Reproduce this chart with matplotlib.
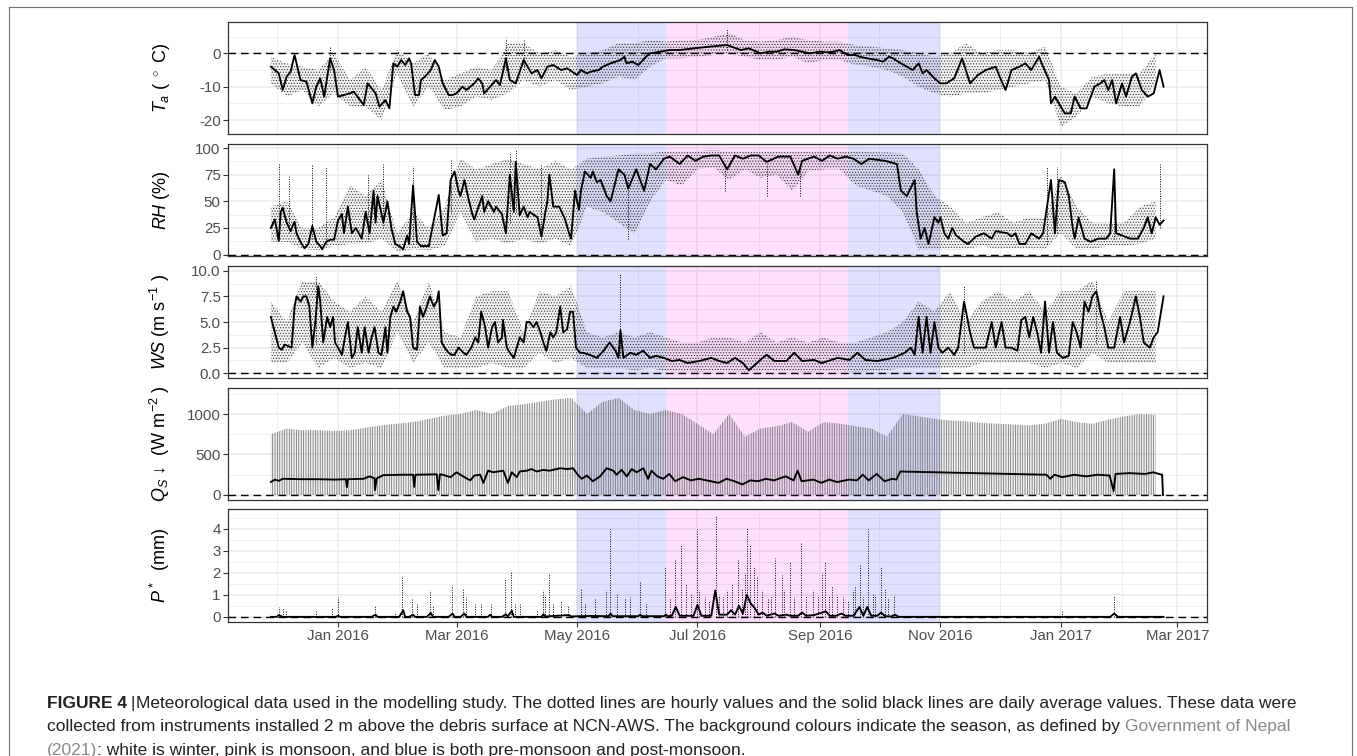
import numpy as np
import matplotlib
matplotlib.use("Agg")
import matplotlib.pyplot as plt
import matplotlib.dates as mdates
from matplotlib.lines import Line2D

plt.rcParams['font.family'] = ['Liberation Sans', 'DejaVu Sans']
plt.rcParams['mathtext.fontset'] = 'custom'
plt.rcParams['mathtext.rm'] = 'Liberation Sans'
plt.rcParams['mathtext.it'] = 'Liberation Sans:italic'
plt.rcParams['mathtext.bf'] = 'Liberation Sans:bold'
plt.rcParams['hatch.linewidth'] = 0.5

# ---- data (days counted from 2016-01-01) ----

# daily means: [day, value]
ta_daily = np.array([
    [-34, -4], [-30, -6], [-28, -11], [-26, -7], [-24, -5.5], [-22, -0.5], [-19, -8], [-16, -8.5],
    [-13, -15], [-11, -10], [-9, -7.5], [-7, -13], [-4, -1.5], [-2, -5], [0, -13], [6, -12],
    [8, -11.5], [13, -15.5], [15, -9], [19, -12], [21, -16], [24, -14], [26, -16.5], [28, -3],
    [30, -4], [32, -2], [34, -3.5], [36, -1.5], [37, -3], [39, -12.5], [41, -12.5], [42, -8],
    [44, -7], [47, -5], [49, -2], [51, -4], [53, -9], [56, -12.5], [58, -12.5], [60, -12],
    [63, -10], [65, -11], [69, -9], [71, -7.5], [73, -9], [74, -12], [77, -10], [80, -8],
    [82, -9.5], [85, -1.5], [87, -8], [90, -9], [94, -2], [96, -4], [98, -6], [101, -5],
    [103, -7.5], [106, -4], [109, -3.5], [113, -5], [116, -4.5], [121, -6.5], [123, -5], [126, -6],
    [128, -5.5], [132, -5], [134, -4], [138, -3], [143, -2], [145, -1], [146, -3], [149, -2.5],
    [152, -3.5], [156, -1], [158, 0], [163, 0.5], [168, 1], [173, 1], [180, 1.5], [188, 2],
    [197, 2.5], [204, 1], [208, 1.5], [214, 0], [218, 0.5], [222, 0.5], [226, 1.2], [231, 1],
    [235, 0.5], [239, 0], [244, 0.5], [248, 0.3], [251, 0.5], [254, 1], [258, -0.5], [262, -0.5],
    [264, -1], [268, -1.5], [273, -2], [276, -2.5], [279, -1], [281, -1.5], [285, -3], [288, -4],
    [291, -5], [294, -3], [296, -6], [298, -5], [302, -7.5], [305, -9], [308, -9], [312, -7.5],
    [316, -1.5], [320, -9], [324, -6.5], [328, -5], [333, -4], [335, -7], [338, -11], [341, -5],
    [345, -4], [348, -3], [351, -5], [355, -1], [357, -4], [360, -8], [361, -15], [363, -13],
    [368, -18], [371, -18], [373, -13], [376, -16.5], [379, -16.5], [383, -10], [386, -9], [388, -8],
    [390, -11], [392, -8], [394, -15], [397, -9], [399, -13], [402, -7], [404, -6], [407, -11],
    [410, -13], [413, -12], [416, -5], [418, -10],
])

rh_daily = np.array([
    [-34, 25], [-32, 33], [-30, 13], [-29, 40], [-28, 44], [-26, 30], [-24, 22], [-23, 27],
    [-22, 31], [-21, 20], [-19, 12], [-17, 6], [-15, 10], [-13, 27], [-11, 12], [-9, 8],
    [-8, 5], [-6, 12], [-4, 14], [-2, 14], [0, 32], [2, 38], [3, 20], [5, 45], [7, 20],
    [9, 25], [12, 15], [14, 40], [16, 20], [18, 60], [19, 30], [20, 55], [23, 30], [25, 50],
    [27, 25], [29, 10], [31, 8], [33, 5], [35, 18], [36, 10], [38, 65], [40, 12], [42, 8],
    [46, 8], [47, 18], [51, 56], [53, 18], [55, 20], [57, 70], [59, 78], [61, 60], [62, 55],
    [64, 70], [66, 53], [68, 38], [69, 33], [73, 55], [74, 40], [76, 50], [79, 40], [80, 45],
    [83, 38], [85, 20], [87, 75], [89, 40], [90, 87], [92, 37], [94, 45], [96, 35], [97, 40],
    [101, 35], [103, 17], [105, 40], [106, 50], [107, 75], [109, 45], [112, 45], [115, 33],
    [117, 20], [118, 15], [120, 60], [122, 42], [123, 60], [125, 78], [128, 72], [129, 78],
    [131, 68], [133, 70], [136, 55], [138, 50], [142, 80], [145, 75], [147, 62], [151, 80],
    [155, 60], [158, 85], [161, 80], [165, 90], [168, 92], [173, 85], [177, 93], [181, 88],
    [185, 92], [189, 93], [193, 93], [197, 80], [201, 93], [205, 90], [209, 93], [213, 93],
    [217, 87], [223, 92], [229, 92], [233, 75], [235, 88], [241, 92], [245, 88], [249, 93],
    [253, 90], [257, 92], [261, 90], [265, 85], [269, 90], [277, 88], [283, 85], [285, 60],
    [288, 55], [292, 70], [293, 40], [295, 15], [297, 25], [299, 10], [302, 35], [304, 30],
    [305, 35], [307, 20], [309, 15], [311, 25], [313, 18], [317, 12], [319, 10], [323, 17],
    [327, 20], [331, 15], [333, 22], [339, 20], [341, 17], [343, 20], [345, 10], [348, 10],
    [351, 20], [355, 15], [357, 20], [361, 70], [363, 20], [365, 70], [368, 68], [370, 55],
    [372, 25], [373, 15], [375, 35], [378, 15], [381, 12], [385, 15], [389, 15], [391, 20],
    [393, 80], [394, 20], [397, 18], [401, 15], [405, 15], [408, 25], [410, 35], [412, 20],
    [414, 35], [416, 28], [418, 32],
])

ws_daily = np.array([
    [-34, 5.5], [-32, 4], [-30, 2.5], [-28.5, 2.3], [-27, 2.8], [-23.5, 2.5], [-22, 6.5], [-21, 7.5],
    [-19, 7], [-17.5, 7.5], [-16, 7.5], [-14.5, 6.5], [-13, 2.5], [-11.5, 5], [-10, 8.5], [-9, 7],
    [-7.5, 3], [-5.5, 5.5], [-4, 4.5], [-2.5, 5.5], [-1.5, 3], [0, 2.5], [2, 1.8], [3.5, 3.5],
    [5, 5], [7, 1.5], [8.5, 2], [10, 4.5], [12, 2], [13.5, 4.5], [15.5, 2], [17, 3.5],
    [18.5, 4.5], [20.5, 2], [22, 1.8], [24, 4.5], [25, 2], [26.5, 5.5], [28, 6.5], [29.5, 6],
    [31.5, 7], [33, 8], [35, 6], [36.5, 5.5], [38, 2.5], [40, 2.3], [41.5, 6.5], [43, 5.5],
    [45, 6.5], [46.5, 7.5], [48.5, 6.5], [50, 7], [51, 8], [52.5, 3], [54, 2.5], [56, 2],
    [57.5, 1.8], [59, 1.8], [61, 2.5], [63.5, 2], [65, 1.8], [67.5, 2.5], [69.5, 3.5], [71, 3],
    [72.5, 6], [74.5, 4.5], [76, 2.5], [78, 4.5], [79.5, 5], [81, 3], [83, 3.5], [83.5, 5.2],
    [85.5, 2.5], [87, 2], [89, 1.5], [90.5, 2.5], [92, 3.5], [94, 3], [95.5, 5], [97, 5],
    [99, 4.5], [100.5, 5], [102.5, 4], [104, 3], [105.5, 2.2], [107.5, 4], [109, 3.5], [110.5, 4],
    [112.5, 6.5], [114, 4], [116, 4.3], [117.5, 6], [119, 6], [120.5, 2.5], [122.5, 2], [124, 2],
    [127.5, 1.8], [131, 1.5], [134.5, 2.2], [137.5, 3], [140.5, 2.2], [142, 1.5], [143, 4.2], [144.5, 1.5],
    [148, 2], [151, 1.8], [154.5, 2.2], [158, 1.5], [161, 1.7], [165, 1.5], [169, 1.2], [173, 1.3],
    [177, 1], [183, 1.2], [189, 1.5], [193, 1.2], [197, 1], [201, 1.5], [205, 1], [208, 0.3],
    [211, 0.8], [215, 1.5], [217, 1.8], [221, 1.2], [227, 1.2], [231, 2], [235, 1.2], [241, 1.3],
    [245, 1], [253, 1.5], [259, 1.3], [263, 2], [267, 1.3], [273, 1.2], [281, 1.5], [287, 2],
    [290, 2.5], [292, 1.8], [294, 5.5], [296, 2], [298, 5.5], [300, 2], [302, 5], [304, 2.5],
    [306, 2], [309, 2.5], [312, 1.8], [314, 2.5], [317, 7], [320, 4], [322, 2.5], [325, 2.5],
    [328, 2.5], [331, 5], [333, 2.5], [336, 5], [338, 2.5], [341, 2.5], [344, 2.2], [346, 5.2],
    [348, 5.5], [350, 3.5], [352, 5.5], [354, 4], [356, 2], [358, 7], [360, 2], [362, 5],
    [364, 2], [367, 1.5], [370, 1.7], [372, 5], [374, 4], [376, 2.5], [378, 7], [380, 6],
    [382, 7.5], [384, 8], [386, 6], [388, 4.5], [390, 2.5], [393, 2.5], [396, 5.5], [398, 3],
    [401, 5], [404, 7.5], [406, 5.5], [408, 3], [411, 2.5], [413, 3.5], [415, 4], [418, 7.5],
])

qs_daily = np.array([
    [-34, 160], [-32, 190], [-30, 175], [-28, 200], [-19, 195], [-11, 195], [-1, 190], [4, 195],
    [4.5, 95], [5, 195], [13, 200], [16, 230], [18.5, 205], [18.7, 60], [19.6, 205], [23, 245],
    [33, 250], [38, 250], [38.6, 100], [39.2, 250], [50, 255], [50.8, 60], [51.6, 255], [53, 250],
    [57, 220], [60, 280], [62, 250], [64, 220], [67, 180], [69, 240], [72, 250], [73.6, 150],
    [76, 300], [78.6, 280], [81, 290], [83.7, 300], [86, 150], [88, 280], [90.5, 220], [92, 290],
    [95.5, 300], [98, 320], [100.6, 290], [104, 310], [107, 300], [112.4, 330], [116, 320], [119, 330],
    [121.7, 240], [123.4, 200], [126, 240], [129, 170], [132.7, 230], [136, 330], [139.4, 300], [141, 250],
    [143.6, 310], [146.2, 230], [148.7, 320], [151.2, 280], [154.6, 330], [157, 200], [158.7, 300], [161.7, 230],
    [164.7, 200], [167.7, 260], [170.7, 170], [174.7, 220], [178.7, 180], [182.7, 200], [186.7, 180], [192.7, 150],
    [196.7, 200], [200.7, 170], [204.7, 130], [208.7, 180], [212.7, 170], [216.7, 200], [220.7, 180], [226.7, 230],
    [230.7, 180], [232.7, 300], [234.7, 170], [240.7, 190], [244.7, 150], [248.7, 190], [252.7, 160], [258.7, 190],
    [262.7, 180], [265.7, 250], [268.7, 180], [272.7, 260], [276.7, 170], [280.7, 200], [282.7, 190], [284.7, 290],
    [358.7, 250], [360.7, 200], [362.7, 250], [366.7, 220], [372.7, 250], [378.7, 230], [384.7, 250], [390.7, 240],
    [392.7, 50], [393.7, 260], [400.7, 270], [408.7, 260], [412.7, 280], [415.7, 260], [417.3, 250], [417.7, 0],
])

p_daily = np.array([
    [-34, 0], [-31, 0], [-30, 0.08], [-28, 0], [-1, 0], [0, 0.05], [1, 0], [17, 0], [19, 0.1], [20, 0],
    [31, 0], [33, 0.3], [34, 0], [36, 0], [38, 0.1], [39, 0], [45, 0], [47, 0.18], [48, 0], [56, 0],
    [58, 0.15], [59, 0], [62, 0], [64, 0.15], [65, 0], [76, 0], [77, 0.1], [78, 0], [83, 0], [85, 0.12],
    [86, 0.02], [88, 0.28], [89, 0], [103, 0], [104, 0.12], [105, 0.02], [117, 0.08], [118, 0.02],
    [128, 0.04], [137, 0.03], [138, 0.15], [139, 0.03], [152, 0.03], [153, 0.1], [154, 0.03], [165, 0.03],
    [166, 0.1], [167, 0.03], [169, 0.05], [171, 0.45], [173, 0.05], [180, 0.05], [182, 0.55], [184, 0.05],
    [189, 0.05], [191, 1.2], [193, 0.1], [197, 0.1], [199, 0.3], [201, 0.1], [203, 0.5], [205, 0.15],
    [207, 1.0], [209, 0.6], [211, 0.4], [213, 0.1], [215, 0.2], [217, 0.05], [221, 0.15], [223, 0.05],
    [227, 0.1], [229, 0.05], [233, 0.05], [235, 0.2], [237, 0.05], [241, 0.08], [247, 0.25], [249, 0.05],
    [252, 0.05], [255, 0.15], [257, 0.05], [261, 0.05], [264, 0.45], [266, 0.05], [268, 0.45], [270, 0.05],
    [273, 0.05], [275, 0.2], [277, 0.03], [280, 0.02], [282, 0.1], [284, 0], [391, 0], [393, 0.15],
    [395, 0], [418, 0],
])

# hourly extremes, sampled every 8 days from day -34
env_days = np.arange(-34, 415, 8)
ta_hi = [-1, -3, -4, -5, 0, -8, -4, -11, 1, -3, 0, -8, -6, -4, -5, 3, 3, 0, 1, -1, 0, 1, 3, 3, 4, 3.5, 4, 4,
         5, 6, 4, 3.5, 4, 5, 4, 3.5, 3.5, 2.5, 2, 1.5, 1, 0, -1, 0, 3, 0, 1, 1, 0, 2, -10, -12, -7, -6, -6, -6, 0]
ta_lo = [-9, -13, -11, -16, -12, -16, -16, -20, -6, -16, -10, -17, -16, -13, -14, -12, -8, -10, -8, -11, -10,
         -9, -7, -8, -4, -1.5, -1.5, -1, -0.5, 0, -1, -2, -2, -1, -3, -2, -2, -3.5, -4, -5, -7, -10, -12, -13,
         -12, -12, -11, -10, -9, -8, -22, -19, -13, -15, -16, -16, -9]
rh_hi = [45, 50, 25, 25, 35, 65, 55, 70, 20, 40, 25, 45, 90, 80, 85, 90, 85, 80, 88, 80, 90, 92, 93, 95, 95,
         97, 97, 97, 98, 97, 97, 97, 97, 97, 97, 97, 97, 97, 96, 96, 95, 80, 55, 45, 30, 35, 40, 30, 35, 35,
         75, 45, 30, 30, 30, 45, 50]
rh_lo = [12, 12, 5, 4, 8, 10, 10, 15, 3, 5, 4, 8, 40, 12, 15, 10, 15, 10, 15, 8, 45, 40, 30, 20, 50, 70, 65,
         80, 82, 70, 80, 72, 75, 60, 78, 80, 80, 65, 60, 55, 40, 5, 5, 5, 5, 8, 5, 6, 5, 5, 20, 5, 5, 8, 8, 10, 15]
ws_hi = [7, 5, 9, 9, 7, 6, 7.5, 6, 9, 5, 9, 4, 3.5, 7.5, 8, 8, 4, 8, 7.5, 8.5, 4, 3.5, 4, 3.5, 4, 3.5, 3, 3,
         3.5, 3.5, 3, 4, 3, 3.5, 3, 3.5, 3, 3, 3.5, 4, 5, 7, 6, 8, 5, 7, 8, 7, 8, 6, 8, 8, 9, 5, 8, 8, 8]
ws_lo = [1, 1, 3, 0.5, 1.5, 0.5, 1, 0.5, 4, 1, 3, 0.5, 0.5, 0.5, 1, 0.5, 0.5, 2, 1, 1.5, 0.5, 0.5, 0.5, 0.3,
         0.5, 0.2, 0.2, 0.1, 0.2, 0.2, 0.1, 0.2, 0.2, 0.2, 0.1, 0.2, 0.2, 0.1, 0.2, 0.3, 0.5, 0.5, 0.5, 0.5,
         0.5, 1, 1, 1, 1, 0.5, 1, 0.5, 2, 1, 1, 1, 1]
qs_hi = [750, 820, 800, 800, 790, 800, 830, 860, 880, 900, 940, 980, 1000, 1050, 1000, 1100, 1120, 1150, 1180,
         1200, 1000, 1150, 1200, 1050, 1000, 1050, 1000, 880, 750, 1000, 720, 820, 850, 900, 780, 900, 880,
         850, 820, 720, 1000, 970, 940, 920, 910, 890, 880, 870, 860, 880, 940, 900, 880, 930, 970, 1000, 990]

# isolated hourly excursions: day, low end, high end
ta_spk_days = [-4, 85, 94, 197]
ta_spk_lo = [-5, -5, -5, 1]
ta_spk_hi = [2, 4.5, 4, 7.5]
rh_spk_days = [-30, -25, -13, -6, 15, 23, 38, 57, 87, 90, 103, 147, 196, 217, 234, 359, 364, 393, 416]
rh_spk_lo = [20, 20, 15, 10, 15, 25, 10, 40, 30, 40, 15, 15, 60, 55, 55, 10, 20, 15, 25]
rh_spk_hi = [85, 75, 85, 82, 75, 85, 83, 90, 95, 98, 85, 75, 85, 85, 80, 82, 82, 80, 85]
ws_spk_days = [-11, 143, 317, 384]
ws_spk_lo = [3, 1.5, 2, 3]
ws_spk_hi = [9.5, 9.7, 8.5, 9]

p_spk_days = [-30, -27.7, -26.3, -11.3, -3.2, -0.2, 18.7, 28.9, 32.6, 37.6, 39.8, 46.6, 47.9, 57.6, 63.5,
              64.8, 69.4, 72.4, 77.3, 84.6, 87.6, 89.6, 92.2, 100.6, 104, 104.8, 106.8, 109, 112.7, 116.6,
              122.9, 125.1, 130.1, 135.7, 137.7, 141.1, 145.3, 147.8, 152.9, 155.9, 165.7, 168, 170.7,
              173.7, 176, 178.7, 181.7, 183, 185.7, 188, 191.3, 192.7, 195, 196.7, 199.7, 202.7, 204.7,
              206, 207.1, 208.7, 210.7, 212, 214.7, 217.7, 219, 221.1, 224.7, 226, 228.7, 231, 234.3,
              236.7, 240.7, 243, 245.1, 246.7, 248.7, 250, 252.7, 255.7, 258, 260.7, 262, 264.3, 266,
              268.3, 270.7, 272, 274.7, 277, 278.7, 281.7, 366.7, 392.7, 408.7]
p_spk_mm = [0.45, 0.4, 0.3, 0.25, 0.4, 0.9, 0.55, 0.2, 1.8, 0.8, 0.6, 1.2, 0.5, 1.45, 1.25,
            0.9, 0.6, 0.6, 0.6, 1.75, 2.1, 0.6, 0.6, 0.3, 1.2, 1.0, 2.0, 0.6, 0.75, 0.5,
            1.3, 0.6, 0.85, 1.2, 4.0, 1.1, 0.8, 0.9, 1.6, 0.6, 2.3, 0.8, 2.6,
            3.3, 1.5, 1.1, 4.0, 1.2, 0.9, 0.7, 4.6, 1.0, 0.9, 1.2, 1.5, 2.6, 1.3,
            2.0, 4.1, 3.3, 2.3, 1.8, 1.2, 0.8, 0.9, 2.7, 1.9, 1.2, 2.5, 0.9, 3.4,
            1.0, 1.2, 0.9, 2.0, 2.5, 1.0, 1.4, 1.0, 0.9, 0.7, 1.2, 1.4, 2.4, 0.9,
            4.0, 1.1, 1.0, 2.3, 1.3, 0.8, 1.0, 0.3, 0.95, 0.1]

# seasons
season_start = [121, 166, 258]
season_end = [166, 258, 305]
season_color = ['blue', 'magenta', 'blue']

BASE = np.datetime64('2016-01-01T00', 'h')


def dates(days):
    d = np.round(np.asarray(days, dtype=float) * 24).astype(int)
    return BASE + d.astype('timedelta64[h]')


W, H = 1357, 756
fig = plt.figure(figsize=(W / 100, H / 100), dpi=100)

left, right = 228, 1207
tops = [21.7, 144, 265.7, 387.7, 509]
bots = [134, 256, 378, 500, 622]
xlim = dates([-55.7, 440])

ylabels = [r'$T_a$ ( $^\circ$ C)', r'$RH$ (%)', r'$WS$ (m s$^{-1}$ )',
           r'$Q_S$ ↓  (W m$^{-2}$ )', r'$P^*$  (mm)']
ylims = [(-24.2, 9.5), (-1.3, 103.8), (-0.46, 10.49), (-62, 1325), (-0.234, 4.91)]
ymajor = [[-20, -10, 0], [0, 25, 50, 75, 100], [0, 2.5, 5, 7.5, 10], [0, 500, 1000], [0, 1, 2, 3, 4]]
ylab_txt = [['-20', '-10', '0'], ['0', '25', '50', '75', '100'], ['0.0', '2.5', '5.0', '7.5', '10.0'],
            ['0', '500', '1000'], ['0', '1', '2', '3', '4']]
yminor = [[-15, -5, 5], [12.5, 37.5, 62.5, 87.5], [1.25, 3.75, 6.25, 8.75], [250, 750, 1250],
          [0.5, 1.5, 2.5, 3.5, 4.5]]

axes = []
for i in range(5):
    ax = fig.add_axes([left / W, 1 - bots[i] / H, (right - left) / W, (bots[i] - tops[i]) / H])
    ax.set_xlim(xlim)
    ax.set_ylim(ylims[i])
    ax.set_yticks(ymajor[i])
    ax.set_yticklabels(ylab_txt[i])
    ax.set_yticks(yminor[i], minor=True)
    ax.xaxis.set_major_locator(mdates.MonthLocator(bymonth=[1, 3, 5, 7, 9, 11]))
    ax.xaxis.set_minor_locator(mdates.MonthLocator())
    ax.xaxis.set_major_formatter(mdates.DateFormatter('%b %Y'))
    ax.set_axisbelow(True)
    ax.grid(which='major', color='#ebebeb', lw=1.1)
    ax.grid(which='minor', color='#ebebeb', lw=0.55)
    ax.tick_params(which='minor', length=0)
    ax.tick_params(which='major', length=3.8, width=0.8, color='#333333', labelsize=10.8,
                   labelcolor='#4d4d4d', pad=1.5)
    if i < 4:
        ax.tick_params(axis='x', which='both', bottom=False, labelbottom=False)
    for s in ax.spines.values():
        s.set_color('#333333')
        s.set_linewidth(0.9)
    ax.set_ylabel(ylabels[i], fontsize=13, color='black')
    ax.yaxis.set_label_coords(-0.0572, 0.5)
    for a, b, c in zip(season_start, season_end, season_color):
        ax.axvspan(dates([a])[0], dates([b])[0], color=c, alpha=0.12, lw=0, zorder=1)
    ax.axhline(0, color='black', lw=1.0, dashes=(5.5, 3.5), zorder=3)
    axes.append(ax)

env_x = dates(env_days)
band = dict(facecolor=(0, 0, 0, 0.04), edgecolor='0.2', hatch='......', linewidth=0, zorder=2)
spk = dict(colors='black', linestyles=(0, (1, 1.5)), lw=0.7, zorder=2)
mean_kw = dict(color='black', lw=1.35, zorder=4)

# air temperature
axes[0].fill_between(env_x, ta_lo, ta_hi, **band)
axes[0].vlines(dates(ta_spk_days), ta_spk_lo, ta_spk_hi, **spk)
axes[0].plot(dates(ta_daily[:, 0]), ta_daily[:, 1], **mean_kw)

# relative humidity
axes[1].fill_between(env_x, rh_lo, rh_hi, **band)
axes[1].vlines(dates(rh_spk_days), rh_spk_lo, rh_spk_hi, **spk)
axes[1].plot(dates(rh_daily[:, 0]), rh_daily[:, 1], **mean_kw)

# wind speed
axes[2].fill_between(env_x, ws_lo, ws_hi, **band)
axes[2].vlines(dates(ws_spk_days), ws_spk_lo, ws_spk_hi, **spk)
axes[2].plot(dates(ws_daily[:, 0]), ws_daily[:, 1], **mean_kw)

# incoming shortwave
axes[3].fill_between(env_x, 0, qs_hi, facecolor=(0, 0, 0, 0.06), edgecolor='0.4',
                     hatch='|||||||', linewidth=0, zorder=2)
axes[3].plot(dates(qs_daily[:, 0]), qs_daily[:, 1], **mean_kw)

# precipitation
axes[4].vlines(dates(p_spk_days), 0, p_spk_mm, **spk)
axes[4].plot(dates(p_daily[:, 0]), p_daily[:, 1], **mean_kw)

# figure frame
frame = dict(color='#707070', lw=0.8, transform=fig.transFigure)
fig.add_artist(Line2D([9 / W, 1352 / W], [1 - 6.7 / H, 1 - 6.7 / H], **frame))
fig.add_artist(Line2D([9 / W, 9 / W], [0, 1 - 6.7 / H], **frame))
fig.add_artist(Line2D([1352 / W, 1352 / W], [0, 1 - 6.7 / H], **frame))

# caption
renderer = fig.canvas.get_renderer()
cap_size = 12.5
ink = '#222222'
link = '#8a8a8a'


def put(x, y, s, **kw):
    t = fig.text(x / W, 1 - y / H, s, ha='left', va='baseline', fontsize=cap_size, **kw)
    return x + t.get_window_extent(renderer).width


x = put(47, 708, 'FIGURE 4', color=ink, fontweight='bold')
x = put(x + 3, 708, '|', color=ink)
put(x + 2, 708, 'Meteorological data used in the modelling study. The dotted lines are hourly values and '
    'the solid black lines are daily average values. These data were', color=ink)
x = put(47, 731.5, 'collected from instruments installed 2 m above the debris surface at NCN-AWS. '
        'The background colours indicate the season, as defined by', color=ink)
put(x + 5, 731.5, 'Government of Nepal', color=link)
x = put(47, 754.5, '(2021)', color=link)
put(x, 754.5, ': white is winter, pink is monsoon, and blue is both pre-monsoon and post-monsoon.', color=ink)

fig.savefig('out.png', dpi=100)
